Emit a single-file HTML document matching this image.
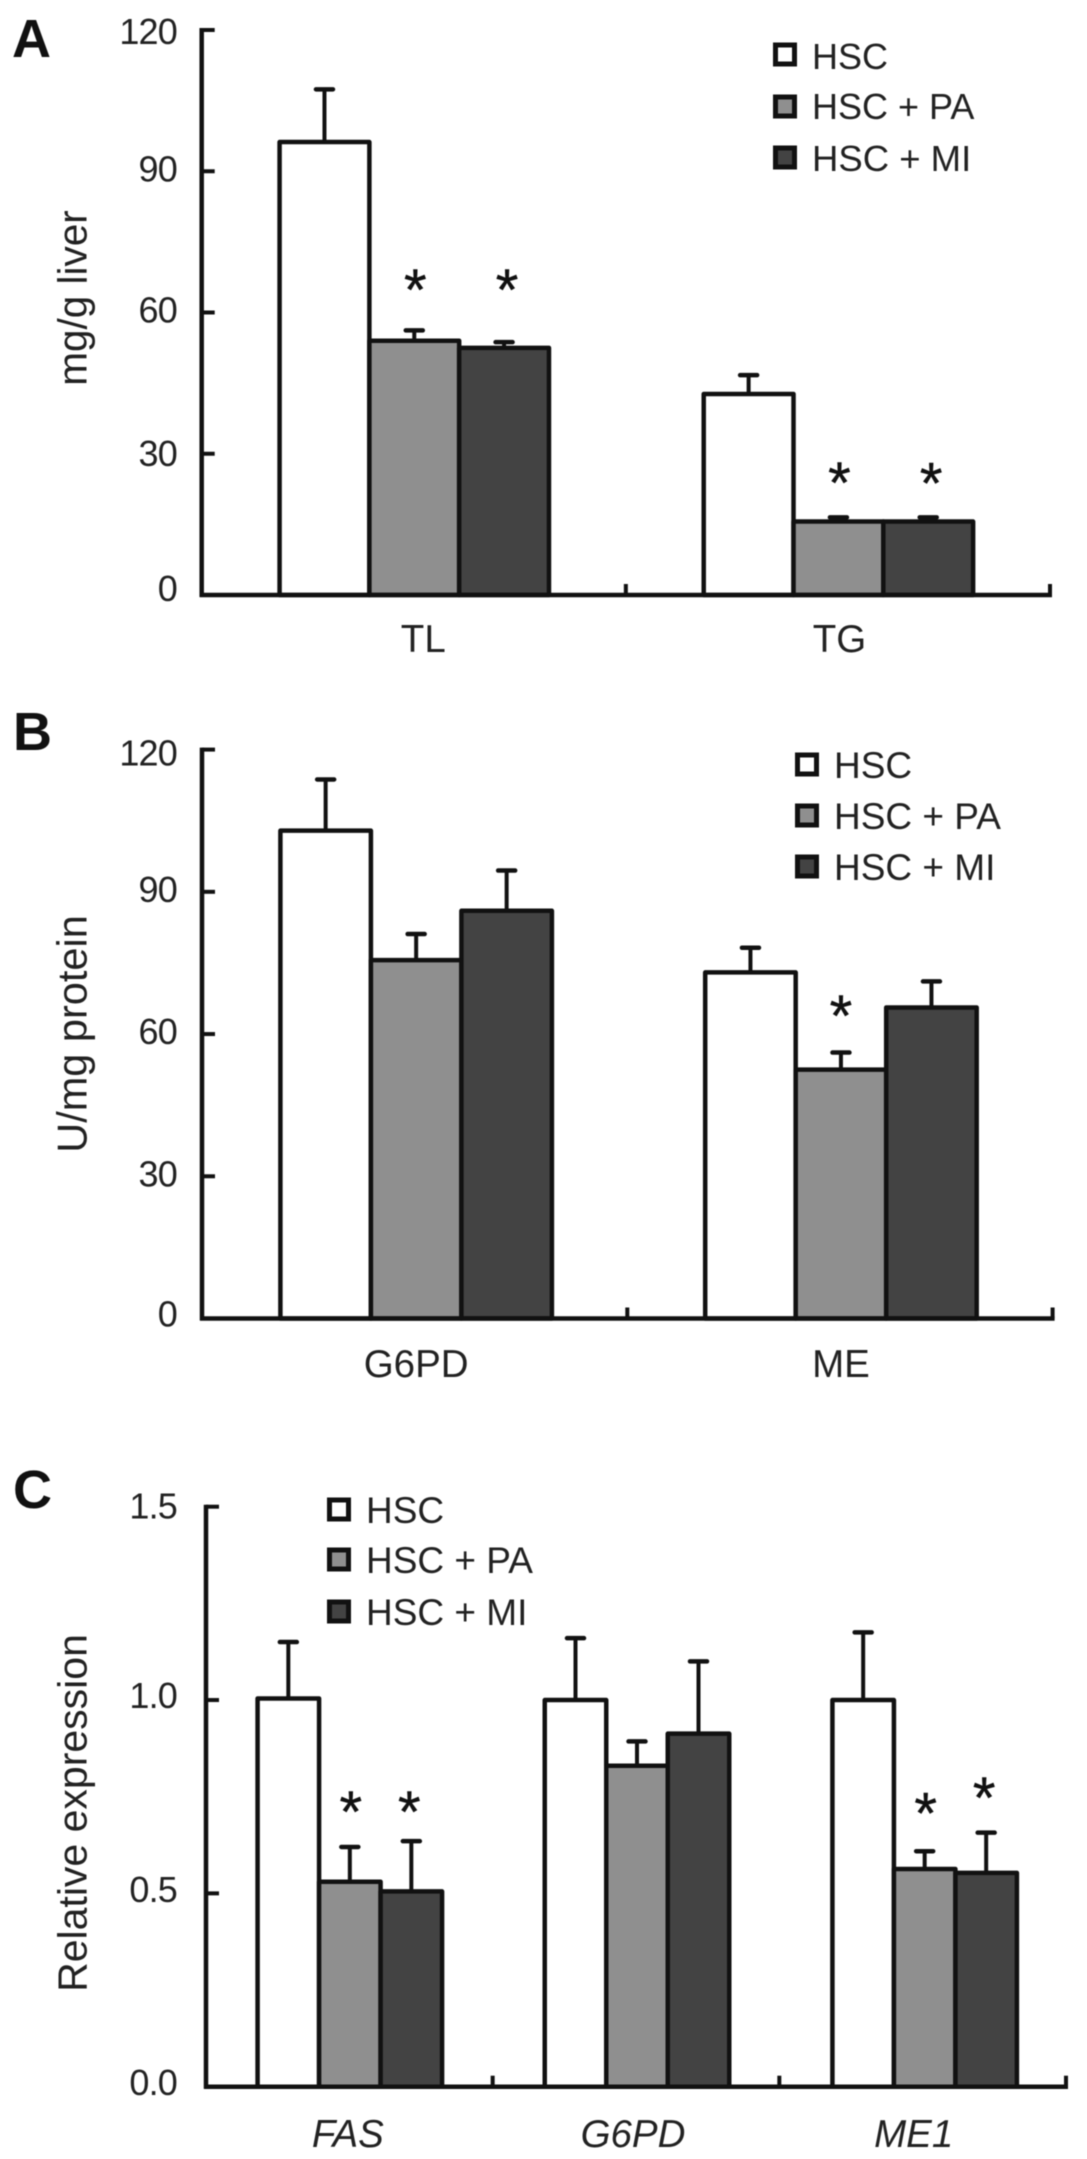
<!DOCTYPE html>
<html>
<head>
<meta charset="utf-8">
<title>Lipid and enzyme bar charts</title>
<style>
html,body{margin:0;padding:0;background:#fff;width:1087px;height:2159px;overflow:hidden}
svg{display:block;filter:blur(.6px)}
text{font-family:"Liberation Sans",sans-serif;fill:#222}
</style>
</head>
<body>
<svg id="figure" width="1087" height="2159" viewBox="0 0 1087 2159" xmlns="http://www.w3.org/2000/svg">
  <rect width="1087" height="2159" fill="#fff"/>
  <text x="12" y="57" font-size="54" font-weight="700" style="fill:#111">A</text>
  <text x="13" y="750" font-size="54" font-weight="700" style="fill:#111">B</text>
  <text x="13" y="1508" font-size="54" font-weight="700" style="fill:#111">C</text>
  <text transform="translate(86.5 298) rotate(-90)" text-anchor="middle" font-size="40.5">mg/g liver</text>
  <text transform="translate(86.5 1034) rotate(-90)" text-anchor="middle" font-size="41.5">U/mg protein</text>
  <text transform="translate(86.5 1813) rotate(-90)" text-anchor="middle" font-size="41">Relative expression</text>

  <g>
    <rect x="775.5" y="45" width="19" height="19" fill="#fff" stroke="#111" stroke-width="5"/>
    <text x="812" y="69" font-size="36">HSC</text>
    <rect x="775.5" y="97" width="19" height="19" fill="#8f8f8f" stroke="#111" stroke-width="5"/>
    <text x="812" y="119" font-size="36">HSC + PA</text>
    <rect x="775.5" y="148" width="19" height="19" fill="#434343" stroke="#111" stroke-width="5"/>
    <text x="812" y="171" font-size="36.5">HSC + MI</text>
  </g>
  <g>
    <rect x="797.5" y="755" width="19" height="19" fill="#fff" stroke="#111" stroke-width="5"/>
    <text x="834" y="778" font-size="37">HSC</text>
    <rect x="797.5" y="806" width="19" height="19" fill="#8f8f8f" stroke="#111" stroke-width="5"/>
    <text x="834" y="829" font-size="37">HSC + PA</text>
    <rect x="797.5" y="857" width="19" height="19" fill="#434343" stroke="#111" stroke-width="5"/>
    <text x="834" y="880" font-size="37">HSC + MI</text>
  </g>
  <g>
    <rect x="329.5" y="1500" width="19" height="19" fill="#fff" stroke="#111" stroke-width="5"/>
    <text x="366" y="1523" font-size="37">HSC</text>
    <rect x="329.5" y="1550" width="19" height="19" fill="#8f8f8f" stroke="#111" stroke-width="5"/>
    <text x="366" y="1573" font-size="37">HSC + PA</text>
    <rect x="329.5" y="1602" width="19" height="19" fill="#434343" stroke="#111" stroke-width="5"/>
    <text x="366" y="1625" font-size="37">HSC + MI</text>
  </g>
</svg>
<script>
// Panel A data
const aCategories = ['TL', 'TG'];
const aTickLabels = ['0', '30', '60', '90', '120'];
const aTickValues = [0, 30, 60, 90, 120];
const aHSC = [96.2, 42.7];
const aHSCPA = [54, 15.6];
const aHSCMI = [52.5, 15.6];
const aErrHSC = [11.2, 4];
const aErrHSCPA = [2.2, 0.9];
const aErrHSCMI = [1.2, 0.9];
const aStarPA = [67.5, 26.6];
const aStarMI = [67.5, 26.4];
const aStarHSC = [null, null];

// Panel B data
const bCategories = ['G6PD', 'ME'];
const bTickLabels = ['0', '30', '60', '90', '120'];
const bTickValues = [0, 30, 60, 90, 120];
const bHSC = [102.9, 73];
const bHSCPA = [75.6, 52.5];
const bHSCMI = [86, 65.6];
const bErrHSC = [10.8, 5.2];
const bErrHSCPA = [5.5, 3.6];
const bErrHSCMI = [8.5, 5.5];
const bStarPA = [null, 66.5];
const bStarMI = [null, null];
const bStarHSC = [null, null];

// Panel C data
const cCategories = ['FAS', 'G6PD', 'ME1'];
const cTickLabels = ['0.0', '0.5', '1.0', '1.5'];
const cTickValues = [0, 0.5, 1, 1.5];
const cHSC = [1.004, 1, 1];
const cHSCPA = [0.53, 0.83, 0.563];
const cHSCMI = [0.505, 0.913, 0.553];
const cErrHSC = [0.146, 0.16, 0.175];
const cErrHSCPA = [0.09, 0.063, 0.046];
const cErrHSCMI = [0.13, 0.187, 0.104];
const cStarPA = [0.744, null, 0.74];
const cStarMI = [0.744, null, 0.78];
const cStarHSC = [null, null, null];

const NS = 'http://www.w3.org/2000/svg';
const svg = document.getElementById('figure');
const INK = '#111';
const fills = ['#fff', '#8f8f8f', '#434343'];
const seriesKeys = ['hsc', 'hsc-pa', 'hsc-mi'];

function make(tag, parent, attrs) {
  const el = document.createElementNS(NS, tag);
  for (const k in attrs) el.setAttribute(k, attrs[k]);
  parent.appendChild(el);
  return el;
}

function drawPanel(p) {
  const yScale = v => p.base - v * (p.base - p.top) / p.yMax;
  const band = (p.right - p.left) / p.categories.length;
  const groupCenter = i => p.left + (i + 0.5) * band + p.groupDx[i];
  const barX = (i, s) => groupCenter(i) + (s - 1.5) * p.barW;

  const g = make('g', svg, {});
  
  

  // error bars first, so bar outlines overlap them
  p.errors.forEach((errs, s) => {
    errs.forEach((e, i) => {
      const cx = barX(i, s) + p.barW / 2;
      const v = p.series[s][i];
      const stem = make('line', g, {x1: cx, x2: cx, y1: yScale(v), y2: yScale(v + e), stroke: INK, 'stroke-width': 4});
      
      
      const cap = make('line', g, {x1: cx - 8.5, x2: cx + 8.5, y1: yScale(v + e), y2: yScale(v + e), stroke: INK, 'stroke-width': 4.5, 'stroke-linecap': 'round'});
      
      
    });
  });

  // bars
  p.series.forEach((vals, s) => {
    vals.forEach((v, i) => {
      const bar = make('rect', g, {x: barX(i, s), y: yScale(v), width: p.barW, height: p.base - yScale(v), fill: fills[s], stroke: INK, 'stroke-width': 4.5, 'stroke-linejoin': 'round'});
      
      
    });
  });

  // significance stars
  p.stars.forEach((vals, s) => {
    vals.forEach((v, i) => {
      if (v === null) return;
      const star = make('text', g, {x: barX(i, s) + p.barW / 2 + p.starDx[s], y: yScale(v) + 33, 'text-anchor': 'middle', 'font-size': 58});
      star.textContent = '*';
      
      
      star.style.fill = '#111';
      star.style.stroke = '#111';
      star.style.strokeWidth = '0.5px';
    });
  });

  // axes
  const yAxis = make('line', g, {x1: p.left, x2: p.left, y1: p.top - 2, y2: p.base + 2, stroke: INK, 'stroke-width': 4.5});
  
  
  const xAxis = make('line', g, {x1: p.left - 2, x2: p.right + 2, y1: p.base, y2: p.base, stroke: INK, 'stroke-width': 4.5});
  
  

  p.tickValues.forEach((v, i) => {
    const y = yScale(v);
    if (v !== 0) {
      const t = make('line', g, {x1: p.left, x2: p.left + 13, y1: y, y2: y, stroke: INK, 'stroke-width': 4});
      
      
    }
    const lab = make('text', g, {x: p.labelRight, y: y + p.tickDy[i], 'text-anchor': 'end', 'font-size': 36, 'letter-spacing': -0.8});
    lab.textContent = p.tickLabels[i];
    
    
  });

  p.categories.forEach((c, i) => {
    const tx = p.left + (i + 1) * band;
    const t = make('line', g, {x1: tx, x2: tx, y1: p.base, y2: p.base - 11, stroke: INK, 'stroke-width': 4});
    
    
    const lab = make('text', g, {x: groupCenter(i) + p.labelDx[i], y: p.catY, 'text-anchor': 'middle', 'font-size': 38.5});
    lab.textContent = c;
    if (p.italic) lab.setAttribute('font-style', 'italic');
    
    
  });
}

drawPanel({
  id: 'a', left: 201.7, right: 1050, top: 30, base: 595, yMax: 120, barW: 89.8, labelRight: 177, catY: 652,
  groupDx: [0.5, 0.5], labelDx: [9, 1], starDx: [0, 1, 3], tickDy: [6, 12, 10, 10, 14], italic: false,
  categories: aCategories, tickLabels: aTickLabels, tickValues: aTickValues,
  series: [aHSC, aHSCPA, aHSCMI], errors: [aErrHSC, aErrHSCPA, aErrHSCMI], stars: [aStarHSC, aStarPA, aStarMI]
});
drawPanel({
  id: 'b', left: 202, right: 1052.6, top: 749.6, base: 1318.5, yMax: 120, barW: 90.5, labelRight: 177, catY: 1377,
  groupDx: [1.5, 1], labelDx: [0, 0], starDx: [0, 0, 0], tickDy: [8, 10, 10, 10, 16], italic: false,
  categories: bCategories, tickLabels: bTickLabels, tickValues: bTickValues,
  series: [bHSC, bHSCPA, bHSCMI], errors: [bErrHSC, bErrHSCPA, bErrHSCMI], stars: [bStarHSC, bStarPA, bStarMI]
});
drawPanel({
  id: 'c', left: 206, right: 1066, top: 1506.7, base: 2086.7, yMax: 1.5, barW: 61.5, labelRight: 177, catY: 2147,
  groupDx: [0.5, 1, 2], labelDx: [-2, -4, -11], starDx: [0, 1, -2], tickDy: [8.5, 8.5, 8, 12], italic: true,
  categories: cCategories, tickLabels: cTickLabels, tickValues: cTickValues,
  series: [cHSC, cHSCPA, cHSCMI], errors: [cErrHSC, cErrHSCPA, cErrHSCMI], stars: [cStarHSC, cStarPA, cStarMI]
});
</script>
</body>
</html>
